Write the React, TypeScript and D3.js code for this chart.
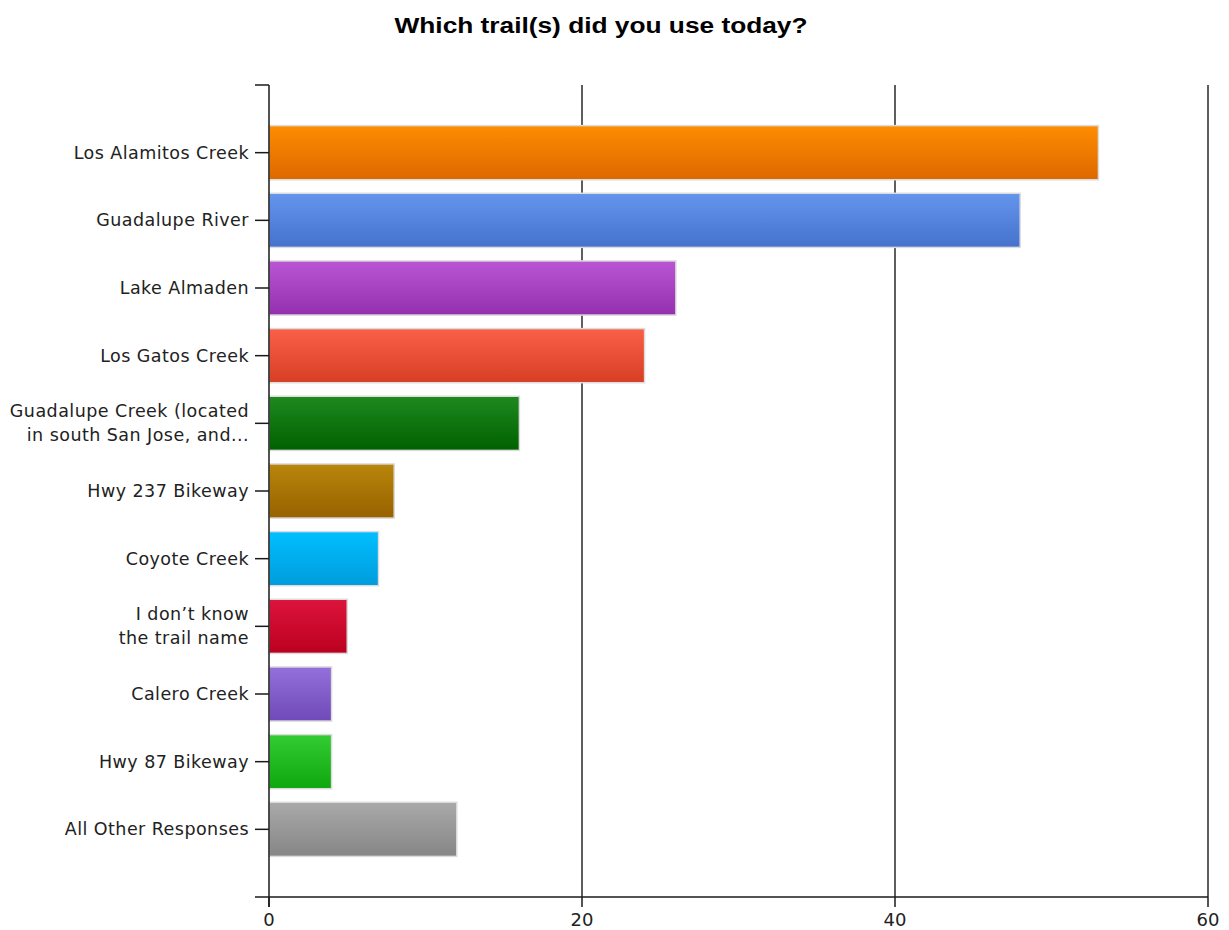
import React from "react";
import * as d3 from "d3";

const categories = [
  "Los Alamitos Creek",
  "Guadalupe River",
  "Lake Almaden",
  "Los Gatos Creek",
  "Guadalupe Creek (located|in south San Jose, and...",
  "Hwy 237 Bikeway",
  "Coyote Creek",
  "I don\u2019t know|the trail name",
  "Calero Creek",
  "Hwy 87 Bikeway",
  "All Other Responses",
];
const values = [53, 48, 26, 24, 16, 8, 7, 5, 4, 4, 12];
const topColors = ["#ff8c00", "#6495ed", "#ba55d3", "#fa6048", "#1e8a1e", "#b8860b", "#00bfff", "#dc143c", "#9370db", "#32cd32", "#a9a9a9"];
const bottomColors = ["#dd6800", "#4472cc", "#9430ae", "#d83e24", "#006000", "#976200", "#009cdc", "#bc0020", "#704ab8", "#0fa70f", "#868686"];
const xTicks = [0, 20, 40, 60];
const title = "Which trail(s) did you use today?";

export default function App() {
  const W = 1229, H = 930;
  const left = 269, right = 1208, top = 85, bottom = 897;
  const x = d3.scaleLinear().domain([0, 60]).range([left, right]);
  const y = d3.scaleBand<string>().domain(categories).range([top, bottom]).paddingInner(0.2).paddingOuter(0.6);
  const ink = "#1a1a1a";
  const font = "'DejaVu Sans', Verdana, sans-serif";
  return (
    <svg width={W} height={H} style={{ position: "absolute", left: 0, top: 0, background: "#fff" }}>
      <defs>
        {categories.map((c, i) => (
          <linearGradient key={i} id={`g${i}`} x1="0" y1="0" x2="0" y2="1">
            <stop offset="0%" stopColor={topColors[i]} />
            <stop offset="100%" stopColor={bottomColors[i]} />
          </linearGradient>
        ))}
      </defs>
      <text x={601} y={33} textAnchor="middle" fontFamily="'Liberation Sans', Arial, sans-serif" fontWeight="bold" fontSize={22} fill="#000" textLength={413} lengthAdjust="spacingAndGlyphs">
        {title}
      </text>
      {xTicks.filter((t) => t > 0).map((t) => (
        <line key={t} x1={x(t)} x2={x(t)} y1={top} y2={bottom} stroke={ink} strokeWidth={1.4} />
      ))}
      {categories.map((c, i) => (
        <rect key={c} x={x(0)} y={y(c)!} width={x(values[i]) - x(0)} height={y.bandwidth()} fill={`url(#g${i})`} stroke="#dcdcdc" strokeWidth={1.5} />
      ))}
      <line x1={left} x2={left} y1={top} y2={bottom + 10} stroke={ink} strokeWidth={1.5} />
      <line x1={left - 14} x2={right} y1={bottom} y2={bottom} stroke={ink} strokeWidth={1.5} />
      <line x1={left - 14} x2={left} y1={top} y2={top} stroke={ink} strokeWidth={1.5} />
      {categories.map((c) => {
        const cy = y(c)! + y.bandwidth() / 2;
        const lines = c.split("|");
        return (
          <g key={c}>
            <line x1={left - 14} x2={left} y1={cy} y2={cy} stroke={ink} strokeWidth={1.5} />
            {lines.map((ln, j) => (
              <text key={j} x={249} y={cy + 6 + (j - (lines.length - 1) / 2) * 24} textAnchor="end" fontFamily={font} fontSize={17.5} letterSpacing={0.45} fill="#222">
                {ln}
              </text>
            ))}
          </g>
        );
      })}
      {xTicks.map((t) => (
        <g key={t}>
          <line x1={x(t)} x2={x(t)} y1={bottom} y2={bottom + 10} stroke={ink} strokeWidth={1.5} />
          <text x={x(t)} y={926} textAnchor="middle" fontFamily={font} fontSize={18} fill="#222">
            {t}
          </text>
        </g>
      ))}
    </svg>
  );
}
